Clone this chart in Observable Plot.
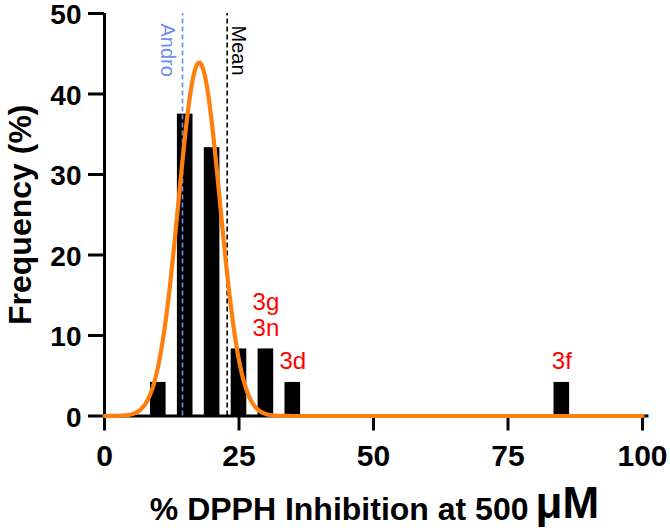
<!DOCTYPE html>
<html>
<head>
<meta charset="utf-8">
<script src="https://cdn.jsdelivr.net/npm/d3@7"></script>
<script src="https://cdn.jsdelivr.net/npm/@observablehq/plot@0.6"></script>
<style>
  body { margin: 0; background: #fff; }
  #chart svg { display: block; }
</style>
</head>
<body>
<div id="chart"></div>
<script>
// Histogram of DPPH inhibition (bin centres, % of compounds per bin)
const binCenters = [10, 15, 20, 25, 30, 35, 85];
const frequencies = [4.17, 37.5, 33.33, 8.33, 8.33, 4.17, 4.17];

// Compound labels placed above selected bins
const labelBins = [30, 35, 85];
const labelTexts = ["3g\n3n", "3d", "3f"];

// Reference lines
const refNames = ["Andro", "Mean"];
const refValues = [14.5, 22.8];

// Gaussian fit parameters
const gaussAmplitude = 43.9;
const gaussMean = 17.6;
const gaussSD = 3.85;

// Axis ticks
const xTicks = [0, 25, 50, 75, 100];
const yTicks = [0, 10, 20, 30, 40, 50];

const bars = binCenters.map((c, i) => ({center: c, freq: frequencies[i]}));
const labels = labelBins.map((b, i) => ({x: b, y: frequencies[binCenters.indexOf(b)], text: labelTexts[i]}));
const fit = d3.range(0, 100.001, 0.25).map(x => ({
  x, y: gaussAmplitude * Math.exp(-((x - gaussMean) ** 2) / (2 * gaussSD ** 2))
}));

const halfBar = 1.45;
const font = "Liberation Sans, Arial, Helvetica, sans-serif";
const fmt = d => String(d);

const chart = Plot.plot({
  width: 670,
  height: 532,
  marginLeft: 104,
  marginRight: 28,
  marginTop: 13,
  marginBottom: 116.5,
  style: {fontFamily: font, background: "#fff", color: "#000", overflow: "visible"},
  x: {domain: [0, 100]},
  y: {domain: [0, 50]},
  marks: [
    Plot.axisX({ticks: xTicks, tickSize: 15, tickPadding: 14, fontSize: 30, fontWeight: "bold",
      strokeWidth: 3, label: null, tickFormat: fmt}),
    // y tick marks
    Plot.axisY({ticks: yTicks, tickSize: 16, strokeWidth: 3, label: null, tickFormat: () => ""}),
    // y tick labels, nudged down a touch
    Plot.axisY({ticks: yTicks, tickSize: 0, tickPadding: 23, fontSize: 28, fontWeight: "bold",
      label: null, tickFormat: fmt, dy: 2}),
    Plot.ruleX([0], {y1: 0, y2: 50, stroke: "#000", strokeWidth: 3}),
    Plot.ruleY([0], {x1: 0, x2: 101.2, stroke: "#000", strokeWidth: 3}),
    Plot.rectY(bars, {x1: d => d.center - halfBar, x2: d => d.center + halfBar, y1: 0, y2: "freq", fill: "#000"}),
    Plot.ruleX([refValues[0]], {y1: 0, y2: 50, stroke: "#6f8df5", strokeWidth: 1.6, strokeDasharray: "5,3"}),
    Plot.ruleX([refValues[1]], {y1: 0, y2: 50, stroke: "#000", strokeWidth: 1.6, strokeDasharray: "5,3"}),
    Plot.text([refNames[0]], {x: refValues[0], y: 50, rotate: 90, textAnchor: "start", dx: -15, dy: 10,
      fontSize: 20, fill: "#6f8df5"}),
    Plot.text([refNames[1]], {x: refValues[1], y: 50, rotate: 90, textAnchor: "start", dx: 11, dy: 12,
      fontSize: 20, fill: "#000"}),
    Plot.line(fit, {x: "x", y: "y", stroke: "#ff7f0e", strokeWidth: 4.2}),
    Plot.text(labels, {x: "x", y: "y", text: "text", lineAnchor: "bottom", lineHeight: 1.1, dy: -13,
      fontSize: 24, fill: "#ff0000"}),
    Plot.text(["Frequency (%)"], {frameAnchor: "left", textAnchor: "middle", rotate: -90, dx: -84,
      fontSize: 32, fontWeight: "bold"}),
    Plot.text(["% DPPH Inhibition at 500"], {frameAnchor: "bottom", textAnchor: "end", lineAnchor: "bottom",
      dx: 155, dy: 104, fontSize: 32, fontWeight: "bold"}),
    Plot.text(["μM"], {frameAnchor: "bottom", textAnchor: "start", lineAnchor: "bottom",
      dx: 162, dy: 102, fontSize: 44, fontWeight: "bold"})
  ]
});

document.getElementById("chart").appendChild(chart);
</script>
</body>
</html>
